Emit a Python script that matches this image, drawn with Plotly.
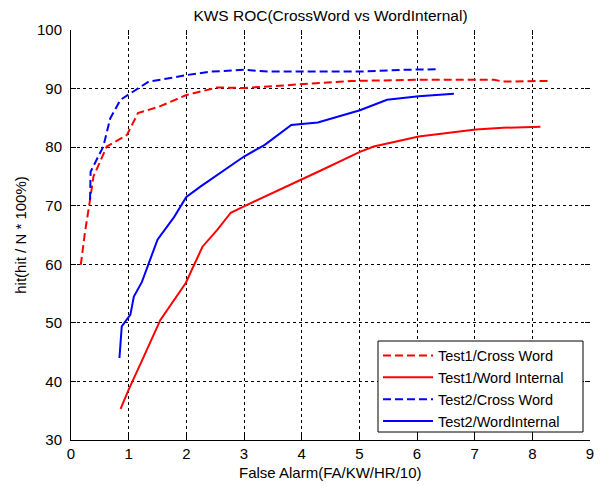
import plotly.graph_objects as go

# Data
t1_cross_x = [0.17, 0.24, 0.33, 0.39, 0.62, 0.97, 1.16, 1.55, 2.0, 2.54, 3.0, 4.0, 4.4, 4.87, 6.03, 7.34, 7.49, 8.27]
t1_cross_y = [59.9, 65.3, 71.0, 75.0, 80.1, 82.1, 85.8, 87.0, 88.9, 90.2, 90.1, 90.8, 91.0, 91.3, 91.5, 91.5, 91.2, 91.3]

t1_int_x = [0.86, 1.0, 1.26, 1.55, 1.99, 2.28, 2.54, 2.77, 3.0, 4.0, 4.35, 5.01, 5.25, 6.03, 7.02, 7.49, 8.14]
t1_int_y = [35.3, 38.6, 44.2, 50.5, 56.8, 63.0, 65.9, 68.8, 69.9, 74.4, 76.1, 79.2, 80.1, 81.8, 83.0, 83.3, 83.5]

t2_cross_x = [0.33, 0.34, 0.56, 0.68, 0.86, 1.15, 1.35, 1.79, 2.0, 2.43, 3.0, 3.42, 4.35, 5.04, 5.74, 6.35]
t2_cross_y = [71.0, 75.8, 80.1, 84.9, 88.1, 90.0, 91.2, 91.9, 92.3, 92.9, 93.2, 92.9, 92.9, 92.9, 93.2, 93.3]

t2_int_x = [0.84, 0.88, 1.03, 1.09, 1.23, 1.5, 1.79, 2.0, 2.25, 2.54, 3.0, 3.36, 3.82, 4.28, 5.01, 5.48, 6.03, 6.64]
t2_int_y = [44.0, 49.4, 51.4, 54.5, 57.0, 64.2, 68.1, 71.5, 73.3, 75.3, 78.4, 80.4, 83.8, 84.2, 86.3, 88.1, 88.7, 89.1]

x_ticks = [0, 1, 2, 3, 4, 5, 6, 7, 8, 9]
y_ticks = [30, 40, 50, 60, 70, 80, 90, 100]

FONT = "Liberation Sans, Arial, sans-serif"

fig = go.Figure()
fig.add_trace(go.Scatter(x=t1_cross_x, y=t1_cross_y, mode="lines", name="Test1/Cross Word",
                         line=dict(color="#ff0000", width=2, dash="8px,4px")))
fig.add_trace(go.Scatter(x=t1_int_x, y=t1_int_y, mode="lines", name="Test1/Word Internal",
                         line=dict(color="#ff0000", width=2)))
fig.add_trace(go.Scatter(x=t2_cross_x, y=t2_cross_y, mode="lines", name="Test2/Cross Word",
                         line=dict(color="#0000ff", width=2, dash="8px,4px")))
fig.add_trace(go.Scatter(x=t2_int_x, y=t2_int_y, mode="lines", name="Test2/WordInternal",
                         line=dict(color="#0000ff", width=2)))
# invisible trace so the mirrored (top/right) tick axes are drawn
fig.add_trace(go.Scatter(x=[], y=[], xaxis="x2", yaxis="y2", showlegend=False, hoverinfo="skip"))

# page body has an 8px margin: figure pixel = window pixel - 8
W, H = 595, 478
L, R, T, B = 63, 13, 22, 46
PW, PH = W - L - R, H - T - B


def px_x(p):  # figure pixel -> paper x
    return (p - L) / PW


def px_y(p):  # figure pixel -> paper y
    return (H - B - p) / PH


axis_common = dict(ticks="inside", ticklen=5, tickcolor="black", tickwidth=1,
                   showline=True, linecolor="black", linewidth=1,
                   showgrid=True, gridcolor="black", gridwidth=1, griddash="3px,3px",
                   zeroline=False, tickfont=dict(family=FONT, size=15, color="black"))

fig.update_layout(
    width=W, height=H,
    margin=dict(l=L, r=R, t=T, b=B),
    paper_bgcolor="white", plot_bgcolor="white",
    font=dict(family=FONT, size=15, color="black"),
    title=dict(text="KWS ROC(CrossWord vs WordInternal)", x=0.5, xref="paper",
               y=1 - 2 / H, yref="container", yanchor="top", xanchor="center", pad=dict(t=0, b=0),
               font=dict(family=FONT, size=15.5, color="black")),
    xaxis=dict(range=[0, 9], tickmode="array", tickvals=x_ticks, ticklabelstandoff=0,
               automargin=False, **axis_common),
    yaxis=dict(range=[30, 100], tickmode="array", tickvals=y_ticks, ticklabelstandoff=5,
               title=dict(text="hit(hit / N * 100%)", standoff=6,
                          font=dict(family=FONT, size=15, color="black")),
               automargin=False, **axis_common),
    xaxis2=dict(overlaying="x", side="top", range=[0, 9], tickmode="array", tickvals=x_ticks,
                ticks="inside", ticklen=5, tickcolor="black", showticklabels=False,
                showgrid=False, showline=False, zeroline=False),
    yaxis2=dict(overlaying="y", side="right", range=[30, 100], tickmode="array", tickvals=y_ticks,
                ticks="inside", ticklen=5, tickcolor="black", showticklabels=False,
                showgrid=False, showline=False, zeroline=False),
    legend=dict(x=px_x(370), y=px_y(429.5),
                xanchor="left", yanchor="bottom",
                bgcolor="rgba(0,0,0,0)", borderwidth=0,
                font=dict(family=FONT, size=14.5, color="black"),
                tracegroupgap=0, itemwidth=50),
    showlegend=True,
    shapes=[dict(type="rect", xref="paper", yref="paper",
                 x0=px_x(370), x1=px_x(575), y0=px_y(424), y1=px_y(333),
                 line=dict(color="black", width=1), fillcolor="white", layer="above")],
    annotations=[dict(text="False Alarm(FA/KW/HR/10)", xref="paper", yref="paper",
                      x=0.5, y=px_y(464), xanchor="center", yanchor="middle",
                      showarrow=False, font=dict(family=FONT, size=15, color="black"))],
)

fig.write_html("out.html")
